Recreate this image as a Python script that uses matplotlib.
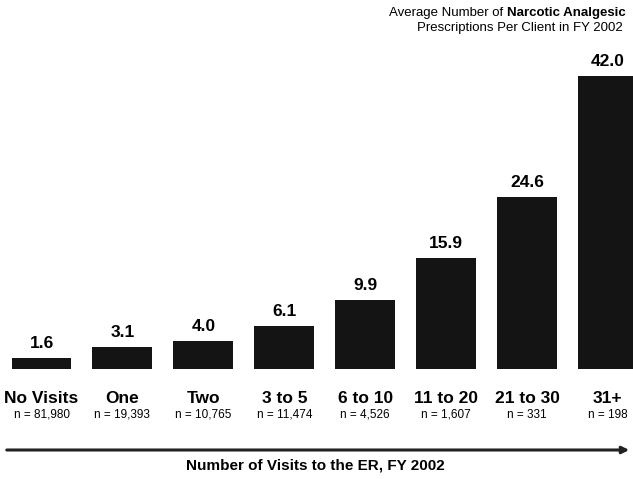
import matplotlib.pyplot as plt
from matplotlib import font_manager

categories = ["No Visits", "One", "Two", "3 to 5", "6 to 10", "11 to 20", "21 to 30", "31+"]
values = [1.6, 3.1, 4.0, 6.1, 9.9, 15.9, 24.6, 42.0]
counts = ["n = 81,980", "n = 19,393", "n = 10,765", "n = 11,474",
          "n = 4,526", "n = 1,607", "n = 331", "n = 198"]

names = {f.name for f in font_manager.fontManager.ttflist}
narrow = "Liberation Sans Narrow" if "Liberation Sans Narrow" in names else "Liberation Sans"
plt.rcParams['font.family'] = [narrow, 'DejaVu Sans']

fig = plt.figure(figsize=(6.33, 4.79), dpi=100)
ax = fig.add_axes([0, 110 / 479, 1, 369 / 479])

x = range(len(values))
ax.bar(x, values, width=0.74, color='#141414')
ax.set_xlim(-0.513, 7.31)
ax.set_ylim(0, 52.9)
ax.axis('off')

for i, v in enumerate(values):
    ax.text(i, v + 1.0, "%.1f" % v, ha='center', va='bottom',
            fontsize=12.5, fontweight='bold')
    ax.text(i, -3.1, categories[i], ha='center', va='top',
            fontsize=12.5, fontweight='bold')
    ax.text(i, -5.7, counts[i], ha='center', va='top', fontsize=8.5)

# arrow along the bottom
ax.annotate('', xy=(632 / 633, 29 / 479), xytext=(4 / 633, 29 / 479),
            xycoords='figure fraction', textcoords='figure fraction',
            arrowprops=dict(arrowstyle='-|>', color='#222222', lw=2.2,
                            mutation_scale=10))

fig.text(315 / 633, 1 - 465 / 479, "Number of Visits to the ER, FY 2002",
         ha='center', va='center', fontsize=11, fontweight='bold')

# title, top right
fig.text(507 / 633, 1 - 13 / 479, "Average Number of ", ha='right', va='center', fontsize=9.5)
fig.text(507 / 633, 1 - 13 / 479, "Narcotic Analgesic", ha='left', va='center',
         fontsize=9.5, fontweight='bold')
fig.text(623 / 633, 1 - 28 / 479, "Prescriptions Per Client in FY 2002",
         ha='right', va='center', fontsize=9.5)

fig.savefig("out.png", dpi=100, facecolor='white')
